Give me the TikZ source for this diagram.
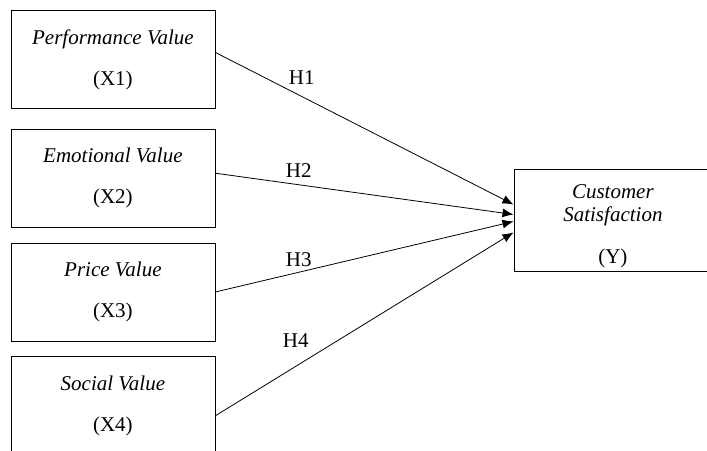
\documentclass[tikz,border=0pt]{standalone}
\usepackage{fontspec}
\setmainfont{Liberation Serif}
\usetikzlibrary{arrows.meta,positioning}

\begin{document}
\begin{tikzpicture}[x=1pt, y=1pt, node distance=15pt, font=\fontsize{21}{25}\selectfont]
    % Define styles
    \tikzstyle{varbox} = [rectangle, minimum width=204pt, minimum height=98pt, text centered, align=center, draw=black, line width=0.8pt]
    \tikzstyle{depbox} = [rectangle, minimum width=198pt, minimum height=100pt, text centered, align=center, draw=black, line width=0.8pt, font=\fontsize{21}{23}\selectfont]
    \tikzstyle{arrow} = [line width=0.8pt, -{Latex[length=11pt,width=9pt]}]
    \tikzstyle{hyp} = [inner sep=0pt]

    % Canvas
    \useasboundingbox (0,0) rectangle (707,-450);
    \clip (0,0) rectangle (707,-450);

    % Nodes
    \node [varbox, anchor=north west] (perf) at (10.5,-10) {\textit{Performance Value}\\[16pt](X1)};
    \node [varbox, below=20pt of perf] (emo) {\textit{Emotional Value}\\[16pt](X2)};
    \node [varbox, below=of emo] (price) {\textit{Price Value}\\[16pt](X3)};
    \node [varbox, below=of price] (social) {\textit{Social Value}\\[16pt](X4)};
    \node [depbox, anchor=north west] (satis) at (513.5,-169) {\rule{0pt}{26pt}\textit{Customer}\\\textit{Satisfaction}\\[19pt](Y)};

    % Arrows
    \draw [arrow] ([yshift=7pt]perf.east) -- node [hyp, pos=0.29, above=12pt] (h1) {H1} ([yshift=16pt]satis.west);
    \draw [arrow] ([yshift=5pt]emo.east) -- node [hyp, pos=0.28, above=7pt] (h2) {H2} ([yshift=6pt]satis.west);
    \draw [arrow] (price.east) -- node [hyp, pos=0.28, above=5pt] (h3) {H3} ([yshift=-1pt]satis.west);
    \draw [arrow] ([yshift=-10pt]social.east) -- node [hyp, pos=0.27, above=18pt] (h4) {H4} ([yshift=-12pt]satis.west);
\end{tikzpicture}
\end{document}
